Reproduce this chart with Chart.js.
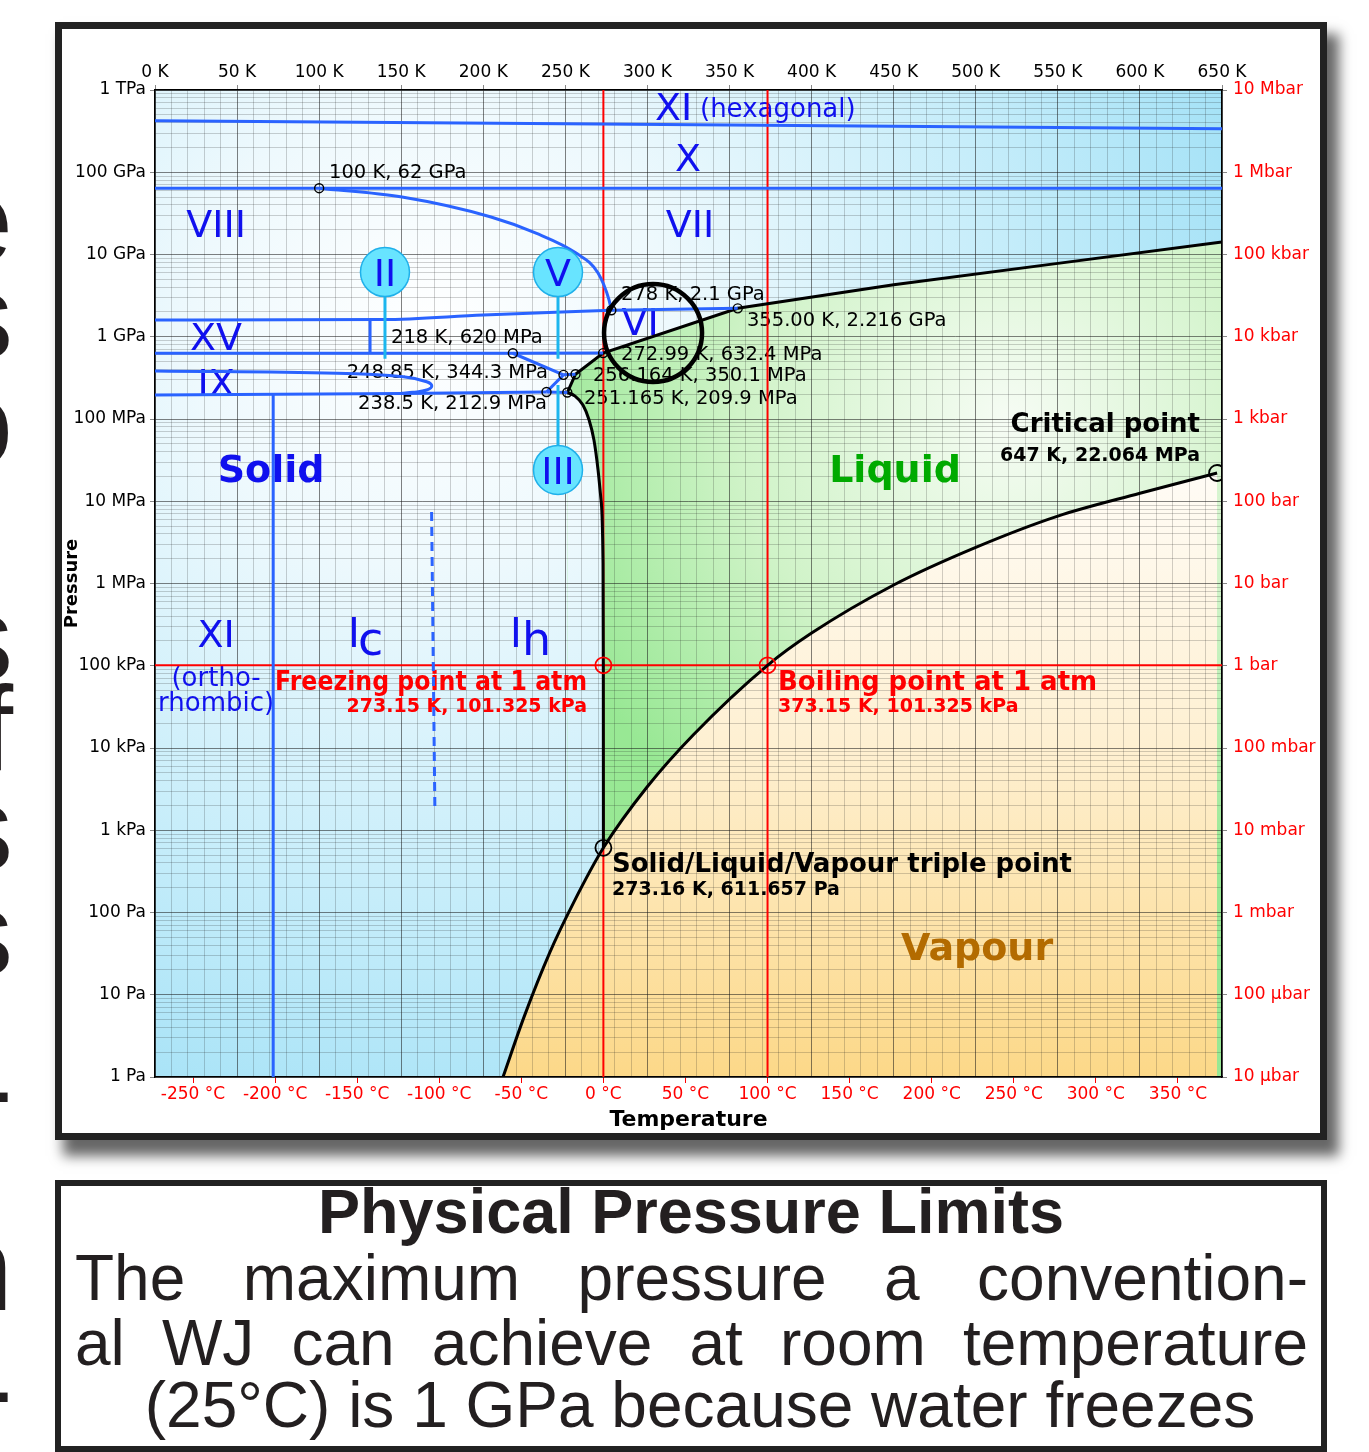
<!DOCTYPE html>
<html>
<head>
<meta charset="utf-8">
<script src="https://cdn.jsdelivr.net/npm/chart.js@4.4.1/dist/chart.umd.min.js"></script>
<style>
  html, body { margin: 0; padding: 0; background: #fff; }
  body { width: 1369px; height: 1452px; position: relative; overflow: hidden; font-family: "Liberation Sans", Arial, sans-serif; color: #231f20; }
  .frame { position: absolute; left: 55px; top: 22px; width: 1258px; height: 1104px; border: 7px solid #222; background: #fff; box-shadow: 10px 14px 12px 2px rgba(0,0,0,0.6); }
  .frame canvas { position: absolute; left: 0; top: 0; }
  .note { position: absolute; left: 55px; top: 1180px; width: 1260px; height: 260px; border: 6px solid #222; background: #fff; }
  .title { position: absolute; left: 55px; width: 1272px; top: 1180px; text-align: center; font-weight: bold; font-size: 63px; line-height: 63px; white-space: nowrap; }
  .line { position: absolute; left: 75px; width: 1233px; font-size: 64px; line-height: 64px; white-space: nowrap; }
  .just { display: flex; justify-content: space-between; }
  .centre { left: 100px; width: 1200px; text-align: center; }
  .edge { position: absolute; left: 13px; transform: translateX(-100%); font-size: 120px; line-height: 120px; color: #231f20; }
</style>
</head>
<body>
<div class="edge" style="top:160px">e</div>
<div class="edge" style="top:256px">s</div>
<div class="edge" style="top:363px">o</div>
<div class="edge" style="top:578px">s</div>
<div class="edge" style="top:668px">f</div>
<div class="edge" style="top:768px">s</div>
<div class="edge" style="top:873px">s</div>
<div class="edge" style="top:1027px">-</div>
<div class="edge" style="top:1208px">n</div>
<div class="edge" style="top:1327px">-</div>

<div class="frame"><canvas id="phase" width="1258" height="1104"></canvas></div>

<div class="note"></div>
<div class="title">Physical Pressure Limits</div>
<div class="line just" style="top:1246px"><span>The</span><span>maximum</span><span>pressure</span><span>a</span><span>convention-</span></div>
<div class="line just" style="top:1311px"><span>al</span><span>WJ</span><span>can</span><span>achieve</span><span>at</span><span>room</span><span>temperature</span></div>
<div class="line centre" style="top:1373px">(25°C) is 1 GPa because water freezes</div>

<script>
// axis labels
const kelvinTicks = [0, 50, 100, 150, 200, 250, 300, 350, 400, 450, 500, 550, 600, 650];
const celsiusTicks = [-250, -200, -150, -100, -50, 0, 50, 100, 150, 200, 250, 300, 350];
const pressureLabelsPa = ["1 Pa", "10 Pa", "100 Pa", "1 kPa", "10 kPa", "100 kPa", "1 MPa", "10 MPa", "100 MPa", "1 GPa", "10 GPa", "100 GPa", "1 TPa"];
const pressureLabelsBar = ["10 µbar", "100 µbar", "1 mbar", "10 mbar", "100 mbar", "1 bar", "10 bar", "100 bar", "1 kbar", "10 kbar", "100 kbar", "1 Mbar", "10 Mbar"];

// phase boundaries, temperature in K and pressure in Pa
const xiXT = [0, 270, 650];
const xiXP = [4.24e11, 3.86e11, 3.39e11];
const xViiT = [0, 650];
const xViiP = [6.4e10, 6.4e10];
const viiiViiT = [100, 150.5, 204.7, 232.1, 256.5, 269.9, 276.6, 278];
const viiiViiP = [6.4e10, 5.0e10, 2.86e10, 1.82e10, 1.04e10, 5.96e9, 2.8e9, 2.1e9];
const viiiViT = [0, 139, 200, 278];
const viiiViP = [1.6e9, 1.62e9, 1.84e9, 2.1e9];
const viViiT = [278, 355];
const viViiP = [2.1e9, 2.216e9];
const xvViT = [0, 218, 272.99];
const xvViP = [6.3e8, 6.3e8, 6.324e8];
const xvEdgeT = [131, 131];
const xvEdgeP = [6.3e8, 1.6e9];
const iiVT = [218, 248.85];
const iiVP = [6.3e8, 3.443e8];
const iiIiiT = [248.85, 238.5];
const iiIiiP = [3.443e8, 2.129e8];
const iiiVT = [248.85, 256.164];
const iiiVP = [3.443e8, 3.501e8];
const ixT = [0, 110.7, 151.3, 165.5, 168.6, 165.5, 157.2, 150];
const ixP = [3.84e8, 3.6e8, 3.27e8, 2.84e8, 2.52e8, 2.25e8, 2.11e8, 2.05e8];
const ihIiT = [0, 150, 238.5];
const ihIiP = [1.96e8, 2.04e8, 2.129e8];
const ihIiiT = [238.5, 251.165];
const ihIiiP = [2.129e8, 2.099e8];
const xiIhT = [72, 72];
const xiIhP = [1, 1.96e8];
const icIhT = [168.5, 170.5];
const icIhP = [7.4e6, 1.8e3];

// liquid boundaries
const meltIhT = [251.165, 255.9, 260.7, 264.4, 267.4, 269.9, 271.7, 272.9, 273.1, 273.16];
const meltIhP = [2.099e8, 1.9e8, 1.48e8, 9.8e7, 5.56e7, 2.4e7, 1.04e7, 1.93e6, 1e5, 611.657];
const meltHighT = [251.165, 256.164, 272.99, 355, 450, 550, 650];
const meltHighP = [2.099e8, 3.501e8, 6.324e8, 2.216e9, 4.3e9, 7.8e9, 1.42e10];
const vapourT = [212, 225, 240.6, 255, 273.16, 300, 328, 373.15, 400, 450, 500, 550, 600, 647];
const vapourP = [1, 5.5, 33, 132, 611.657, 3400, 14500, 101325, 2.5e5, 9.6e5, 2.75e6, 6.6e6, 1.25e7, 2.2064e7];

// reference lines (1 atm, 0 °C, 100 °C)
const freezeT = [273.15, 273.15];
const boilT = [373.15, 373.15];
const fullP = [1, 1e12];
const fullT = [0, 650];
const atmP = [101325, 101325];
const bgP = [1e12, 1e12];

// marked points
const smallMarkT = [100, 278, 355, 218, 272.99, 248.85, 256.164, 238.5, 251.165];
const smallMarkP = [6.4e10, 2.1e9, 2.216e9, 6.3e8, 6.324e8, 3.443e8, 3.501e8, 2.129e8, 2.099e8];
const bigMarkT = [273.16, 647];
const bigMarkP = [611.657, 2.2064e7];
const atmMarkT = [273.15, 373.15];
const atmMarkP = [101325, 101325];

// circled phase names and their pointers
const bubbleNames = ["II", "V", "III"];
const bubbleT = [140.1, 245.5, 245.5];
const bubbleP = [6.12e9, 6.12e9, 2.4e7];
const pointerIiT = [140.1, 140.1];
const pointerIiP = [3.13e9, 5.4e8];
const pointerVT = [245.5, 245.5];
const pointerVP = [3.13e9, 5.4e8];
const pointerIiiT = [245.5, 245.5];
const pointerIiiP = [2.59e8, 4.57e7];
const focusT = [303.4];
const focusP = [1.11e9];

const pts = (T, P) => T.map((t, i) => ({ x: t, y: P[i] }));

const LINE_BLUE = "#2a63ff";
const CYAN = "#1cb6ee";
const TEXT_BLUE = "#1010ee";
const RED = "#ff0000";

function radial(fx, fy, fr, stops) {
  return (c) => {
    const a = c.chart.chartArea;
    if (!a) return "rgba(0,0,0,0)";
    const w = a.right - a.left;
    const cx = a.left + fx * w, cy = a.top + fy * (a.bottom - a.top);
    const g = c.chart.ctx.createRadialGradient(cx, cy, 0, cx, cy, fr * w);
    stops.forEach(([o, col]) => g.addColorStop(o, col));
    return g;
  };
}
function vertical(f0, f1, stops) {
  return (c) => {
    const a = c.chart.chartArea;
    if (!a) return "rgba(0,0,0,0)";
    const h = a.bottom - a.top;
    const g = c.chart.ctx.createLinearGradient(0, a.top + f0 * h, 0, a.top + f1 * h);
    stops.forEach(([o, col]) => g.addColorStop(o, col));
    return g;
  };
}
const iceFill = radial(0.258, 0.243, 0.89, [[0, "#ffffff"], [0.25, "#eef9fd"], [0.6, "#c6edfa"], [1, "#96ddf5"]]);
const waterFill = radial(0.8, 0.335, 0.46, [[0, "#f6fcf4"], [0.55, "#d0f3c8"], [1, "#98e894"]]);
const steamFill = vertical(0.385, 1, [[0, "#fffcf6"], [0.45, "#fef0d2"], [1, "#fcd888"]]);

function boundary(T, P, color, extra) {
  return Object.assign({ data: pts(T, P), borderColor: color, borderWidth: 3, pointRadius: 0, fill: false, tension: 0, order: 60 }, extra || {});
}
const smooth = { cubicInterpolationMode: "monotone" };

const datasets = [
  { data: pts(fullT, bgP), borderWidth: 0, pointRadius: 0, fill: "start", backgroundColor: iceFill, order: 100 },
  boundary(freezeT, fullP, RED, { borderWidth: 2, order: 95 }),
  boundary(boilT, fullP, RED, { borderWidth: 2, order: 95 }),
  boundary(fullT, atmP, RED, { borderWidth: 2, order: 95 }),
  boundary(meltHighT, meltHighP, "#000", { fill: "start", backgroundColor: waterFill, order: 90 }),
  boundary(meltIhT, meltIhP, "#000", Object.assign({ fill: "start", backgroundColor: iceFill, order: 85 }, smooth)),
  boundary(vapourT, vapourP, "#000", Object.assign({ fill: "start", backgroundColor: steamFill, order: 80 }, smooth)),
  boundary(xiXT, xiXP, LINE_BLUE),
  boundary(xViiT, xViiP, LINE_BLUE),
  boundary(viiiViiT, viiiViiP, LINE_BLUE, smooth),
  boundary(viiiViT, viiiViP, LINE_BLUE, smooth),
  boundary(viViiT, viViiP, LINE_BLUE),
  boundary(xvViT, xvViP, LINE_BLUE),
  boundary(xvEdgeT, xvEdgeP, LINE_BLUE),
  boundary(iiVT, iiVP, LINE_BLUE),
  boundary(iiIiiT, iiIiiP, LINE_BLUE),
  boundary(iiiVT, iiiVP, LINE_BLUE),
  boundary(ixT, ixP, LINE_BLUE, { tension: 0.4 }),
  boundary(ihIiT, ihIiP, LINE_BLUE),
  boundary(ihIiiT, ihIiiP, LINE_BLUE),
  boundary(xiIhT, xiIhP, LINE_BLUE),
  boundary(icIhT, icIhP, LINE_BLUE, { borderDash: [9, 6] }),
  boundary(pointerIiT, pointerIiP, CYAN, { order: 55 }),
  boundary(pointerVT, pointerVP, CYAN, { order: 55 }),
  boundary(pointerIiiT, pointerIiiP, CYAN, { order: 55 }),
  { data: pts(bubbleT, bubbleP), showLine: false, pointRadius: 24.5, pointBackgroundColor: "#68e4ff", pointBorderColor: "#1fb0ea", pointBorderWidth: 1.5, order: 50 },
  { data: pts(smallMarkT, smallMarkP), showLine: false, pointRadius: 4.5, pointBackgroundColor: "rgba(0,0,0,0)", pointBorderColor: "#000", pointBorderWidth: 1.4, order: 10 },
  { data: pts(bigMarkT, bigMarkP), showLine: false, pointRadius: 8, pointBackgroundColor: "rgba(0,0,0,0)", pointBorderColor: "#000", pointBorderWidth: 1.8, order: 10 },
  { data: pts(atmMarkT, atmMarkP), showLine: false, pointRadius: 8, pointBackgroundColor: "rgba(0,0,0,0)", pointBorderColor: RED, pointBorderWidth: 1.8, order: 10 },
  { data: pts(focusT, focusP), showLine: false, pointRadius: 49, pointBackgroundColor: "rgba(0,0,0,0)", pointBorderColor: "#000", pointBorderWidth: 4.5, order: 5 },
];

const fN = (s) => s + 'px "DejaVu Sans"';
const fB = (s) => 'bold ' + s + 'px "DejaVu Sans"';

// text placed at (K, log10 Pa)
const phaseText = [
  { text: "XI", k: 304.6, lp: 11.635, font: fN(38), color: TEXT_BLUE },
  { text: "(hexagonal)", k: 332.0, lp: 11.672, font: fN(26), color: TEXT_BLUE },
  { text: "X", k: 324.7, lp: 11.015, font: fN(38), color: TEXT_BLUE, align: "center" },
  { text: "VIII", k: 37.2, lp: 10.213, font: fN(38), color: TEXT_BLUE, align: "center" },
  { text: "VII", k: 325.9, lp: 10.213, font: fN(38), color: TEXT_BLUE, align: "center" },
  { text: "XV", k: 37.2, lp: 8.839, font: fN(38), color: TEXT_BLUE, align: "center" },
  { text: "IX", k: 37.2, lp: 8.28, font: fN(38), color: TEXT_BLUE, align: "center" },
  { text: "VI", k: 295.5, lp: 9.021, font: fN(38), color: TEXT_BLUE, align: "center" },
  { text: "Solid", k: 70.7, lp: 7.234, font: fB(38), color: TEXT_BLUE, align: "center" },
  { text: "Liquid", k: 450.8, lp: 7.234, font: fB(38), color: "#00aa00", align: "center" },
  { text: "Vapour", k: 500.8, lp: 1.422, font: fB(38), color: "#b36b00", align: "center" },
  { text: "XI", k: 37.2, lp: 5.228, font: fN(38), color: TEXT_BLUE, align: "center" },
  { text: "(ortho-", k: 37.2, lp: 4.754, font: fN(26), color: TEXT_BLUE, align: "center" },
  { text: "rhombic)", k: 37.2, lp: 4.45, font: fN(26), color: TEXT_BLUE, align: "center" },
  { text: "I", k: 117.6, lp: 5.228, font: fN(40), color: TEXT_BLUE },
  { text: "c", k: 123.7, lp: 5.131, font: fN(46), color: TEXT_BLUE },
  { text: "I", k: 216.3, lp: 5.228, font: fN(40), color: TEXT_BLUE },
  { text: "h", k: 223.6, lp: 5.131, font: fN(46), color: TEXT_BLUE },
  { text: "Freezing point at 1 atm", k: 263.2, lp: 4.705, font: fB(26), color: RED, align: "right", max: 312 },
  { text: "273.15 K, 101.325 kPa", k: 263.2, lp: 4.438, font: fB(19), color: RED, align: "right" },
  { text: "Boiling point at 1 atm", k: 379.5, lp: 4.705, font: fB(26), color: RED },
  { text: "373.15 K, 101.325 kPa", k: 379.5, lp: 4.438, font: fB(19), color: RED },
  { text: "Solid/Liquid/Vapour triple point", k: 278.4, lp: 2.492, font: fB(26), color: "#000" },
  { text: "273.16 K, 611.657 Pa", k: 278.4, lp: 2.213, font: fB(19), color: "#000" },
  { text: "Critical point", k: 636.6, lp: 7.842, font: fB(26), color: "#000", align: "right" },
  { text: "647 K, 22.064 MPa", k: 636.6, lp: 7.489, font: fB(19), color: "#000", align: "right" },
  { text: "100 K, 62 GPa", k: 106.0, lp: 10.93, font: fN(19.5), color: "#000" },
  { text: "278 K, 2.1 GPa", k: 283.9, lp: 9.447, font: fN(19.5), color: "#000" },
  { text: "355.00 K, 2.216 GPa", k: 360.6, lp: 9.131, font: fN(19.5), color: "#000" },
  { text: "218 K, 620 MPa", k: 143.8, lp: 8.924, font: fN(19.5), color: "#000" },
  { text: "272.99 K, 632.4 MPa", k: 283.9, lp: 8.717, font: fN(19.5), color: "#000" },
  { text: "248.85 K, 344.3 MPa", k: 239.4, lp: 8.498, font: fN(19.5), color: "#000", align: "right" },
  { text: "256.164 K, 350.1 MPa", k: 266.8, lp: 8.462, font: fN(19.5), color: "#000" },
  { text: "238.5 K, 212.9 MPa", k: 238.8, lp: 8.122, font: fN(19.5), color: "#000", align: "right" },
  { text: "251.165 K, 209.9 MPa", k: 261.3, lp: 8.182, font: fN(19.5), color: "#000" },
];

const labelsPlugin = {
  id: "phaseText",
  beforeDatasetsDraw(chart) {
    const { ctx, scales } = chart;
    ctx.save();
    ctx.textBaseline = "alphabetic";
    phaseText.forEach((l) => {
      const x = scales.x.getPixelForValue(l.k);
      const y = scales.y.getPixelForValue(Math.pow(10, l.lp));
      ctx.font = l.font;
      ctx.fillStyle = l.color;
      ctx.textAlign = l.align || "left";
      if (l.max) ctx.fillText(l.text, x, y, l.max);
      else ctx.fillText(l.text, x, y);
    });
    ctx.restore();
  },
  afterDatasetsDraw(chart) {
    const { ctx, scales } = chart;
    ctx.save();
    ctx.font = fN(38);
    ctx.fillStyle = TEXT_BLUE;
    ctx.textAlign = "center";
    ctx.textBaseline = "alphabetic";
    bubbleNames.forEach((name, i) => {
      const x = scales.x.getPixelForValue(bubbleT[i]);
      const y = scales.y.getPixelForValue(bubbleP[i]);
      ctx.fillText(name, x, y + 14);
    });
    ctx.restore();
  },
};

const isDecade = (v) => {
  const lg = Math.log10(v);
  return Math.abs(lg - Math.round(lg)) < 1e-6;
};
const GRID_MAJOR = "rgba(25,25,25,0.55)";
const GRID_MINOR = "rgba(25,25,25,0.2)";
const tickFont = { family: "DejaVu Sans", size: 17 };

new Chart(document.getElementById("phase"), {
  type: "line",
  data: { datasets },
  options: {
    responsive: false,
    animation: false,
    devicePixelRatio: 1,
    events: [],
    layout: { padding: 0 },
    plugins: {
      legend: { display: false },
      tooltip: { enabled: false },
      filler: { drawTime: "beforeDraw" },
    },
    scales: {
      x: {
        type: "linear", position: "top", min: 0, max: 650,
        afterFit: (s) => { s.height = 61; },
        border: { color: "#000", width: 1.5 },
        grid: {
          color: (c) => (c.tick && c.tick.value % 50 === 0 ? GRID_MAJOR : GRID_MINOR),
          tickColor: (c) => (c.tick && c.tick.value % 50 === 0 ? "#888" : "rgba(0,0,0,0)"),
          tickLength: 5,
        },
        ticks: {
          stepSize: 10, autoSkip: false, maxRotation: 0, minRotation: 0, padding: 2,
          color: "#000", font: tickFont,
          callback: (v) => (kelvinTicks.includes(v) ? v + " K" : ""),
        },
      },
      x2: {
        type: "linear", position: "bottom", min: 0, max: 650,
        afterFit: (s) => { s.height = 56; },
        afterBuildTicks: (s) => { s.ticks = celsiusTicks.map((c) => ({ value: c + 273.15 })); },
        border: { color: "#000", width: 1.5 },
        grid: { drawOnChartArea: false, tickColor: RED, tickLength: 6 },
        ticks: {
          autoSkip: false, maxRotation: 0, minRotation: 0, padding: 1,
          color: RED, font: tickFont,
          callback: (v, i) => celsiusTicks[i] + " °C",
        },
        title: { display: true, text: "Temperature", color: "#000", font: { family: "DejaVu Sans", size: 22, weight: "bold" }, padding: { top: 0, bottom: 0 } },
      },
      y: {
        type: "logarithmic", position: "left", min: 1, max: 1e12,
        afterFit: (s) => { s.width = 93; },
        afterBuildTicks: (s) => {
          const t = [];
          for (let d = 0; d < 12; d++) for (let m = 1; m <= 9; m++) t.push({ value: m * Math.pow(10, d) });
          t.push({ value: 1e12 });
          s.ticks = t;
        },
        border: { color: "#000", width: 1.5 },
        grid: {
          color: (c) => (c.tick && isDecade(c.tick.value) ? GRID_MAJOR : GRID_MINOR),
          tickColor: (c) => (c.tick && isDecade(c.tick.value) ? "#888" : "rgba(0,0,0,0)"),
          tickLength: 5,
        },
        ticks: {
          autoSkip: false, padding: 4, color: "#000", font: tickFont,
          callback: (v) => (isDecade(v) ? pressureLabelsPa[Math.round(Math.log10(v))] : ""),
        },
        title: { display: true, text: "Pressure", color: "#000", font: { family: "DejaVu Sans", size: 18, weight: "bold" }, padding: { top: 0, bottom: 0 } },
      },
      y2: {
        type: "logarithmic", position: "right", min: 1, max: 1e12,
        afterFit: (s) => { s.width = 98; },
        afterBuildTicks: (s) => { s.ticks = pressureLabelsBar.map((_, i) => ({ value: Math.pow(10, i) })); },
        border: { color: "#000", width: 1.5 },
        grid: { drawOnChartArea: false, tickColor: "#888", tickLength: 5 },
        ticks: {
          autoSkip: false, padding: 6, color: RED, font: tickFont,
          callback: (v) => pressureLabelsBar[Math.round(Math.log10(v))],
        },
      },
    },
  },
  plugins: [labelsPlugin],
});
</script>
</body>
</html>
